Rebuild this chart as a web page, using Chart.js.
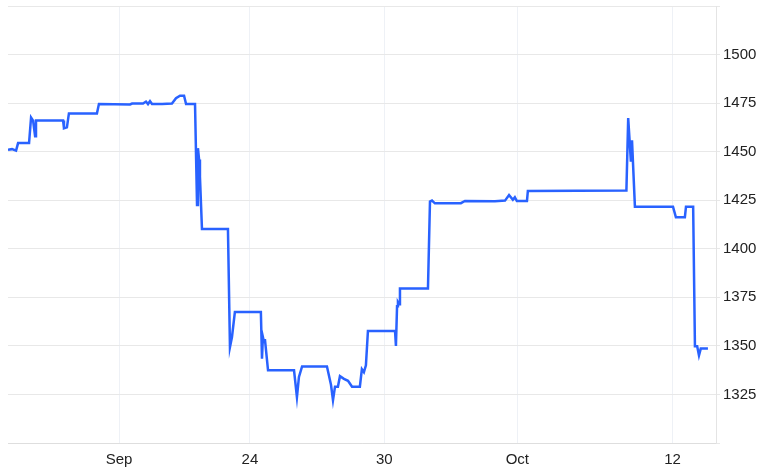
<!DOCTYPE html>
<html>
<head>
<meta charset="utf-8">
<script src="https://cdn.jsdelivr.net/npm/chart.js@4"></script>
<style>
	html, body { margin: 0; padding: 0; background: #fff; }
	#wrap { width: 780px; height: 470px; }
</style>
</head>
<body>
<div id="wrap"><canvas id="chart"></canvas></div>
<script>
// x axis in days from the first sample, labels placed on the few marked dates
const tickDays = [4.96, 10.8, 16.8, 22.74, 29.67];
const tickLabels = ["Sep", "24", "30", "Oct", "12"];
const dayMax = 31.61;

const days = [
	0, 0.18, 0.36, 0.45, 0.94, 1.03, 1.12, 1.21, 1.25, 2.46,
	2.5, 2.63, 2.72, 3.97, 4.06, 5.45, 5.54, 6.03, 6.16, 6.25,
	6.34, 6.43, 6.88, 7.32, 7.5, 7.68, 7.86, 7.95, 8.35, 8.44,
	8.48, 8.53, 8.57, 8.66, 9.82, 9.91, 10.0, 10.13, 11.29, 11.34,
	11.38, 11.43, 11.47, 11.61, 12.77, 12.9, 12.99, 13.13, 14.24, 14.42,
	14.51, 14.6, 14.73, 14.82, 15.0, 15.18, 15.36, 15.71, 15.8, 15.89,
	15.98, 16.07, 17.28, 17.32, 17.37, 17.41, 17.46, 17.5, 18.75, 18.84,
	18.93, 19.06, 20.22, 20.4, 21.74, 22.19, 22.37, 22.54, 22.63, 22.72,
	23.17, 23.21, 27.61, 27.69, 27.81, 27.86, 27.99, 29.69, 29.82, 30.22,
	30.27, 30.59, 30.67, 30.77, 30.85, 30.93, 31.25,
];
const prices = [
	1451, 1451.3, 1450.5, 1454.4, 1454.4, 1467.6, 1466, 1458, 1466, 1466,
	1462, 1462.5, 1469.7, 1469.7, 1474.5, 1474.3, 1474.8, 1474.8, 1475.8, 1474.5,
	1476, 1474.5, 1474.5, 1474.8, 1477.5, 1478.8, 1478.8, 1474.5, 1474.5, 1422.6,
	1451.8, 1446, 1437, 1410.2, 1410.2, 1349.4, 1354.6, 1367.5, 1367.5, 1343.4,
	1354.6, 1352, 1353.5, 1337.4, 1337.4, 1323.6, 1334, 1339.4, 1339.4, 1330,
	1322, 1329, 1329, 1334.4, 1333, 1332, 1329, 1329, 1338, 1336.5,
	1340, 1357.7, 1357.7, 1350, 1370.4, 1372.5, 1371.5, 1379.6, 1379.6, 1424.3,
	1424.8, 1423.4, 1423.5, 1424.6, 1424.5, 1424.8, 1427.7, 1425.2, 1426.5, 1424.6,
	1424.6, 1429.8, 1430, 1467.3, 1444.9, 1455.8, 1421.7, 1421.7, 1416.2, 1416.2,
	1421.7, 1421.7, 1349.8, 1349.8, 1345.1, 1348.6, 1348.6,
];
const priceMin = 1300;
const priceMax = 1525;
const priceStep = 25;

const points = days.map((d, i) => ({ x: d, y: prices[i] }));

new Chart(document.getElementById("chart"), {
	type: "line",
	data: {
		datasets: [
			{
				data: points,
				borderColor: "#2962ff",
				borderWidth: 2.5,
				pointRadius: 0,
				tension: 0,
				fill: false,
			},
		],
	},
	options: {
		responsive: true,
		maintainAspectRatio: false,
		animation: false,
		layout: { padding: { left: 8, top: 6, right: 0, bottom: 0 } },
		plugins: { legend: { display: false }, tooltip: { enabled: false } },
		scales: {
			x: {
				type: "linear",
				min: 0,
				max: dayMax,
				afterBuildTicks: (scale) => {
					scale.ticks = tickDays.map((v) => ({ value: v }));
				},
				afterFit: (scale) => {
					scale.height = 27;
				},
				ticks: {
					autoSkip: false,
					maxRotation: 0,
					padding: 8,
					color: "#222",
					font: { family: "'Liberation Sans', Arial, sans-serif", size: 15 },
					callback: (v) => {
						const i = tickDays.indexOf(v);
						return i >= 0 ? tickLabels[i] : "";
					},
				},
				grid: { color: "#eef1f6", lineWidth: 1, drawTicks: false },
				border: { display: true, color: "#dedede", width: 1 },
			},
			y: {
				position: "right",
				min: priceMin,
				max: priceMax,
				afterFit: (scale) => {
					scale.width = 64;
					scale.paddingTop = 0;
					scale.paddingBottom = 0;
				},
				ticks: {
					stepSize: priceStep,
					padding: 3,
					color: "#222",
					font: { family: "'Liberation Sans', Arial, sans-serif", size: 15 },
					callback: (v) => (v === priceMin || v === priceMax ? "" : v),
				},
				grid: { color: "#e8e8e8", lineWidth: 1, tickLength: 4 },
				border: { display: true, color: "#e4e4e4", width: 1 },
			},
		},
	},
});
</script>
</body>
</html>
